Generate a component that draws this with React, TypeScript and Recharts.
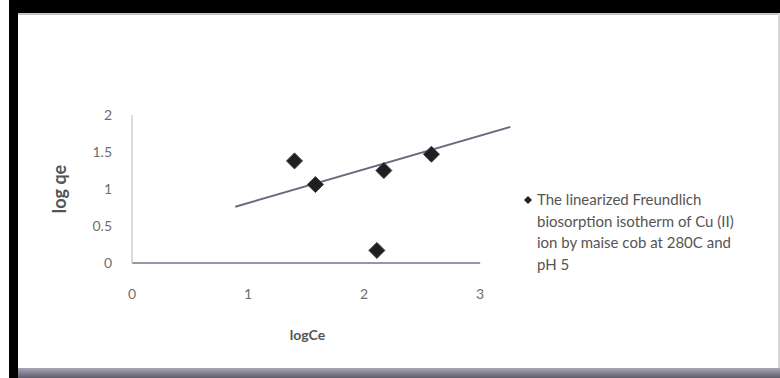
import { ScatterChart, Scatter, XAxis, YAxis, ReferenceLine, Legend } from "recharts"

// measured points (log Ce, log qe)
const logCe = [1.4, 1.58, 2.11, 2.17, 2.58]
const logQe = [1.38, 1.06, 0.17, 1.25, 1.47]

// linear trend line end points
const trendCe = [0.89, 3.26]
const trendQe = [0.76, 1.84]

const xTicks = [0, 1, 2, 3]
const yTicks = [0, 0.5, 1, 1.5, 2]

const legendLines = [
  "The linearized Freundlich",
  "biosorption isotherm of Cu (II)",
  "ion by maise cob at 280C and",
  "pH 5",
]

const points = logCe.map((x, i) => ({ x, y: logQe[i] }))
const trend = trendCe.map((x, i) => ({ x, y: trendQe[i] }))

const FONT = "Lato, 'Open Sans', sans-serif"

function Diamond({ cx = 0, cy = 0 }: { cx?: number; cy?: number }) {
  const r = 8
  return (
    <polygon
      points={`${cx},${cy - r} ${cx + r},${cy} ${cx},${cy + r} ${cx - r},${cy}`}
      fill="#1f1f1f" stroke="#3c3c3c" strokeWidth={1}
    />
  )
}

function LegendBox() {
  return (
    <div style={{ position: "relative", fontFamily: FONT, fontSize: 15, lineHeight: "21.7px", color: "#555", whiteSpace: "nowrap" }}>
      <svg style={{ position: "absolute", left: -13, top: 7 }} width={8} height={8}>
        <polygon points="4,0 8,4 4,8 0,4" fill="#222" />
      </svg>
      {legendLines.map((l) => <div key={l}>{l}</div>)}
    </div>
  )
}

export default function App() {
  return (
    <div style={{ position: "relative", width: 780, height: 378, background: "#fff", overflow: "hidden" }}>
      <style>{"body{margin:0}"}</style>
      <ScatterChart width={780} height={378} margin={{ top: 115, right: 265, bottom: 75, left: 72 }}>
        <XAxis type="number" dataKey="x" domain={[0, 3.3]} ticks={xTicks} axisLine={false}
          tickLine={false} tickSize={0} tickMargin={26} height={40}
          tick={{ fill: "#6e6e6e", fontSize: 14, fontFamily: FONT }}
          label={{ value: "logCe", position: "center", dx: -16, dy: 52, fill: "#555", fontSize: 14, fontWeight: 700, fontFamily: FONT }} />
        <YAxis type="number" dataKey="y" domain={[0, 2]} ticks={yTicks} width={60}
          axisLine={{ stroke: "#cfcfcf", strokeWidth: 1.5 }} tickLine={false} tickSize={0} tickMargin={20}
          tick={{ fill: "#6e6e6e", fontSize: 14, fontFamily: FONT }}
          label={{ value: "log qe", position: "center", angle: -90, dx: -42, fill: "#555", fontSize: 18, fontWeight: 700, fontFamily: FONT }} />
        <ReferenceLine segment={[{ x: 0, y: 0 }, { x: 3, y: 0 }]} stroke="#909aa6" strokeWidth={2} />
        <Scatter data={trend} line={{ stroke: "#6d6880", strokeWidth: 2 }} shape={() => <g />}
          legendType="none" isAnimationActive={false} />
        <Scatter name={legendLines.join(" ")} data={points} fill="#1f1f1f"
          shape={(p: any) => <Diamond cx={p.cx} cy={p.cy} />} isAnimationActive={false} />
        <Legend layout="horizontal" align="center" verticalAlign="middle" content={() => <LegendBox />}
          wrapperStyle={{ left: 537, top: 189, width: 240, height: "auto" }} />
      </ScatterChart>
      {/* scanned frame edges */}
      <div style={{ position: "absolute", left: 9, top: 0, width: 9, height: 378, background: "#000" }} />
      <div style={{ position: "absolute", left: 9, top: 0, width: 771, height: 13, background: "#000" }} />
      <div style={{ position: "absolute", left: 18, top: 13, width: 762, height: 2, background: "#c9c3c9" }} />
      <div style={{ position: "absolute", left: 18, top: 368, width: 762, height: 10, background: "linear-gradient(#a9a7b4, #5e5c6c)" }} />
      <div style={{ position: "absolute", left: 778, top: 13, width: 2, height: 355, background: "#d8d8d8" }} />
    </div>
  )
}
